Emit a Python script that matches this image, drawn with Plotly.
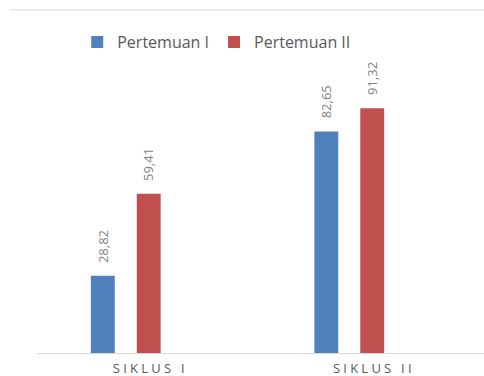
import plotly.graph_objects as go

# Data
categories = ["SIKLUS I", "SIKLUS II"]
pertemuan_1 = [28.82, 82.65]
pertemuan_2 = [59.41, 91.32]
series_names = ["Pertemuan I", "Pertemuan II"]
colors = ["#4f81bd", "#c0504d"]

def spaced(label):
    # widen the tracking of the category labels
    return "\u2005".join(label)

def fmt(v):
    return f"{v:.2f}".replace(".", ",")

# Excel-like cluster of three slots, the third one empty
bar_w = 0.107
offsets = [-0.259, -0.0536]

fig = go.Figure()
for name, vals, col, off in zip(series_names, [pertemuan_1, pertemuan_2], colors, offsets):
    fig.add_trace(go.Bar(
        x=categories, y=vals, name=name,
        marker=dict(color=col, line=dict(width=0)),
        width=bar_w, offset=off,
    ))

# rotated value labels above each bar
ann = []
for vals, off in zip([pertemuan_1, pertemuan_2], offsets):
    for c_i, (cat, v) in enumerate(zip(categories, vals)):
        ann.append(dict(
            x=c_i + off + bar_w / 2, y=v, xref="x", yref="y",
            text=fmt(v), showarrow=False, textangle=-90,
            xanchor="center", yanchor="bottom", yshift=11,
            font=dict(family="Open Sans", size=13, color="#7f7f7f"),
        ))

fig.update_layout(
    width=484, height=376,
    margin=dict(l=37, r=0, t=85, b=23, autoexpand=False),
    plot_bgcolor="white", paper_bgcolor="white",
    barmode="overlay",
    showlegend=True,
    legend=dict(
        orientation="h", x=0.09, y=1.16, xanchor="left", yanchor="middle",
        font=dict(family="Open Sans", size=16, color="#595959"),
        itemwidth=30, tracegroupgap=0,
    ),
    annotations=ann,
    shapes=[dict(
        type="line", xref="paper", yref="paper",
        x0=-0.0604, x1=1.0, y0=1.2799, y1=1.2799,
        line=dict(color="#d9d9d9", width=1),
    )],
)

fig.update_xaxes(
    type="category", range=[-0.5, 1.5], automargin=False,
    tickvals=categories, ticktext=[spaced(c) for c in categories],
    showline=True, linecolor="#d9d9d9", linewidth=1,
    ticks="", showgrid=False, zeroline=False,
    ticklabelstandoff=3,
    tickfont=dict(family="Open Sans", size=13, color="#595959"),
)
fig.update_yaxes(
    range=[0, 100], visible=False, showgrid=False, zeroline=False,
    automargin=False,
)

fig.write_html("out.html")
